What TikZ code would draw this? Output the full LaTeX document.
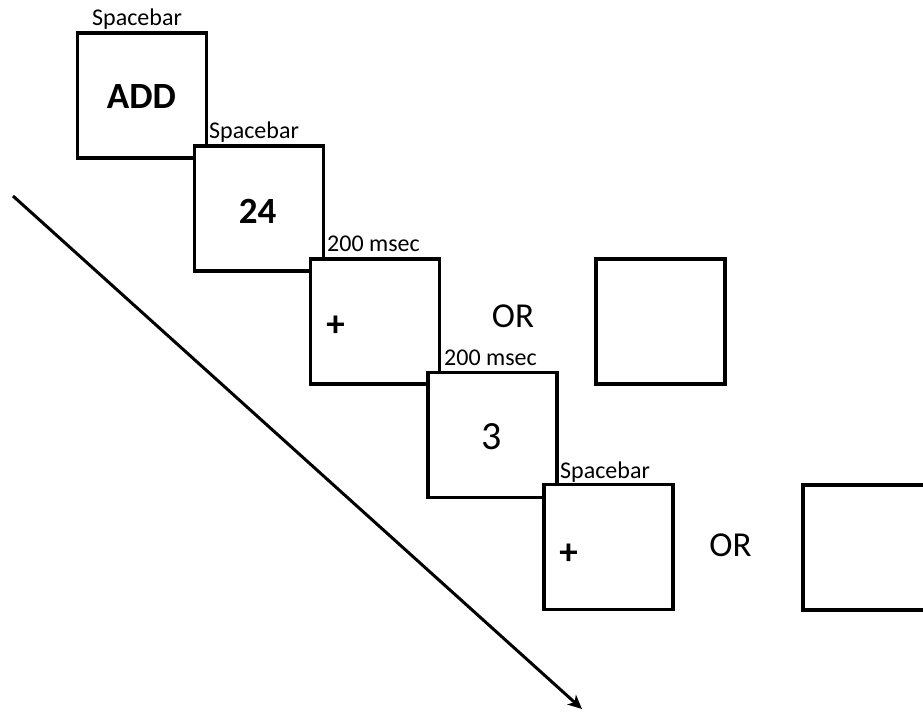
\documentclass[tikz,border=0pt]{standalone}
\usepackage{fontspec}
\setmainfont{Carlito}
\usetikzlibrary{arrows.meta}
\tikzset{
  trial/.style={draw=black, line width=3.8pt, fill=white, minimum width=129pt, minimum height=125pt, inner sep=0pt, line join=miter},
  cue/.style={anchor=base west, inner sep=0pt, font=\fontsize{24}{24}\selectfont},
  stim/.style={anchor=base, inner sep=0pt, font=\fontsize{37}{37}\selectfont\bfseries},
  ortext/.style={anchor=base, inner sep=0pt, font=\fontsize{35}{35}\selectfont},
  timeline/.style={draw=black, line width=3pt, -{Stealth[length=14pt,width=13pt,inset=4pt]}}
}
\begin{document}
\begin{tikzpicture}[x=1pt,y=-1pt]
\useasboundingbox (0,0) rectangle (923,713);
\clip (0,0) rectangle (923,713);
% time arrow
\coordinate (t0) at (13,196);
\coordinate (t1) at (582,709);
\draw[timeline] (t0) -- (t1);
% trial screens
\node[trial] (b1) at (142,95.5) {};
\node[trial] (b2) at (259,208.5) {};
\node[trial] (b3) at (375,321.5) {};
\node[trial] (b4) at (492.5,435) {};
\node[trial] (b5) at (608.5,547) {};
\node[trial] (ba) at (660.5,321.5) {};
\node[trial] (bb) at (867.5,547.5) {};
% contents
\node[stim] (s1) at (141.5,108) {ADD};
\node[stim] (s2) at (257.5,223) {24};
\node[stim] (s3) at (335.5,336) {+};
\node[stim, font=\fontsize{40}{40}\selectfont] (s4) at (492,449) {3};
\node[stim] (s5) at (568.5,564) {+};
% cues
\node[cue] (c1) at (92,25) {Spacebar};
\node[cue] (c2) at (209,138) {Spacebar};
\node[cue] (c3) at (327,251) {200 msec};
\node[cue] (c4) at (444,365) {200 msec};
\node[cue] (c5) at (560,478) {Spacebar};
% OR
\node[ortext] (or1) at (513,327) {OR};
\node[ortext] (or2) at (730.5,556) {OR};
\end{tikzpicture}
\end{document}
